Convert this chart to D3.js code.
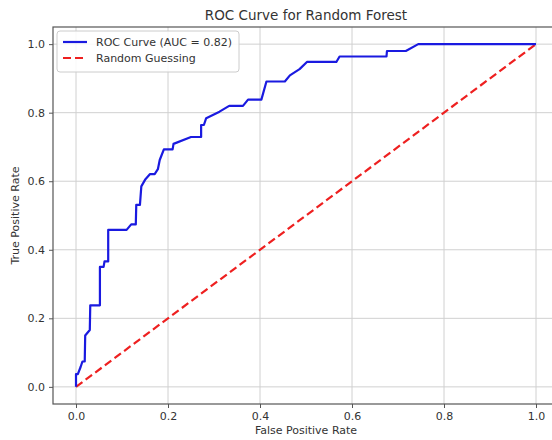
<!DOCTYPE html>
<html>
<head>
<meta charset="utf-8">
<script src="https://cdn.jsdelivr.net/npm/d3@7"></script>
<style>
  body { margin: 0; background: #fff; }
  text { font-family: "DejaVu Sans", sans-serif; fill: #333; }
</style>
</head>
<body>
<div class="rocChart"></div>
<script>
/* data */
const fpr = [0, 0, 0.004, 0.010, 0.014, 0.019, 0.020, 0.030, 0.031, 0.052, 0.052, 0.060, 0.062, 0.070, 0.070,
  0.110, 0.120, 0.130, 0.131, 0.139, 0.142, 0.151, 0.161, 0.171, 0.178, 0.182, 0.191, 0.210, 0.212,
  0.250, 0.272, 0.272, 0.278, 0.283, 0.312, 0.333, 0.363, 0.374, 0.403, 0.414, 0.454, 0.465, 0.486,
  0.502, 0.566, 0.573, 0.675, 0.676, 0.717, 0.744, 1.0];
const tpr = [0, 0.037, 0.037, 0.058, 0.074, 0.074, 0.150, 0.166, 0.238, 0.238, 0.350, 0.350, 0.366, 0.366, 0.458,
  0.458, 0.474, 0.474, 0.531, 0.531, 0.585, 0.606, 0.621, 0.621, 0.635, 0.662, 0.693, 0.693, 0.709,
  0.729, 0.729, 0.764, 0.764, 0.784, 0.803, 0.820, 0.820, 0.838, 0.838, 0.891, 0.891, 0.909, 0.927,
  0.948, 0.948, 0.964, 0.964, 0.980, 0.980, 1.0, 1.0];
const diagX = [0, 1];
const diagY = [0, 1];
const ticks = [0, 0.2, 0.4, 0.6, 0.8, 1.0];
const legendLabels = ["ROC Curve (AUC = 0.82)", "Random Guessing"];

/* dimensions */
const W = 552, H = 440;
const margin = ({top: 27, right: -7, bottom: 36, left: 53});
const width = W - margin.left - margin.right;
const height = H - margin.top - margin.bottom;

const svg = d3.select('.rocChart')
  .append('svg')
  .attr("width", W)
  .attr("height", H);

const g = svg.append("g")
  .attr("transform", `translate(${margin.left},${margin.top})`);

const xScale = d3.scaleLinear().domain([-0.05, 1.05]).range([0, width]);
const yScale = d3.scaleLinear().domain([-0.05, 1.05]).range([height, 0]);

/* grid */
g.append("g").selectAll("line").data(ticks).join("line")
  .attr("x1", d => xScale(d)).attr("x2", d => xScale(d))
  .attr("y1", 0).attr("y2", height)
  .attr("stroke", "#d0d0d0").attr("stroke-width", 1);
g.append("g").selectAll("line").data(ticks).join("line")
  .attr("y1", d => yScale(d)).attr("y2", d => yScale(d))
  .attr("x1", 0).attr("x2", width)
  .attr("stroke", "#d0d0d0").attr("stroke-width", 1);

/* axes */
const fmt = d3.format(".1f");
const xAxis = g.append("g")
  .attr("transform", `translate(0,${height})`)
  .call(d3.axisBottom(xScale).tickValues(ticks).tickFormat(fmt).tickSize(4).tickPadding(4));
const yAxis = g.append("g")
  .call(d3.axisLeft(yScale).tickValues(ticks).tickFormat(fmt).tickSize(4).tickPadding(4));
[xAxis, yAxis].forEach(a => {
  a.selectAll("text").style("font-size", "11px").attr("fill", "#333");
  a.selectAll("line").attr("stroke", "#555");
  a.select(".domain").remove();
});

/* frame */
g.append("rect")
  .attr("x", 0).attr("y", 0)
  .attr("width", width).attr("height", height)
  .attr("fill", "none").attr("stroke", "#555").attr("stroke-width", 1.2);

/* lines */
const line = d3.line().x(d => xScale(d[0])).y(d => yScale(d[1]));
g.append("path")
  .datum(diagX.map((d, i) => [d, diagY[i]]))
  .attr("d", line)
  .attr("fill", "none").attr("stroke", "#ee2020")
  .attr("stroke-width", 2.2).attr("stroke-dasharray", "8,4");
g.append("path")
  .datum(fpr.map((d, i) => [d, tpr[i]]))
  .attr("d", line)
  .attr("fill", "none").attr("stroke", "#1a1ae0")
  .attr("stroke-width", 2.2).attr("stroke-linejoin", "round");

/* legend */
const legend = g.append("g").attr("transform", "translate(4,4)");
legend.append("rect")
  .attr("width", 182).attr("height", 41).attr("rx", 3)
  .attr("fill", "#fff").attr("fill-opacity", 0.85)
  .attr("stroke", "#ccc");
const legColors = ["#1a1ae0", "#ee2020"];
legendLabels.forEach((lab, i) => {
  const yy = 11 + i * 16;
  legend.append("line")
    .attr("x1", 6).attr("x2", 30).attr("y1", yy).attr("y2", yy)
    .attr("stroke", legColors[i]).attr("stroke-width", 2.2)
    .attr("stroke-dasharray", i ? "8,4" : null);
  legend.append("text")
    .attr("x", 39).attr("y", yy + 4)
    .style("font-size", "11px")
    .text(lab);
});

/* titles */
svg.append("text")
  .attr("x", margin.left + width / 2).attr("y", 20)
  .attr("text-anchor", "middle").style("font-size", "13.5px")
  .text("ROC Curve for Random Forest");
svg.append("text")
  .attr("x", margin.left + width / 2).attr("y", 434)
  .attr("text-anchor", "middle").style("font-size", "11px")
  .text("False Positive Rate");
svg.append("text")
  .attr("transform", `translate(19,${margin.top + height / 2}) rotate(-90)`)
  .attr("text-anchor", "middle").style("font-size", "11px")
  .text("True Positive Rate");
</script>
</body>
</html>
